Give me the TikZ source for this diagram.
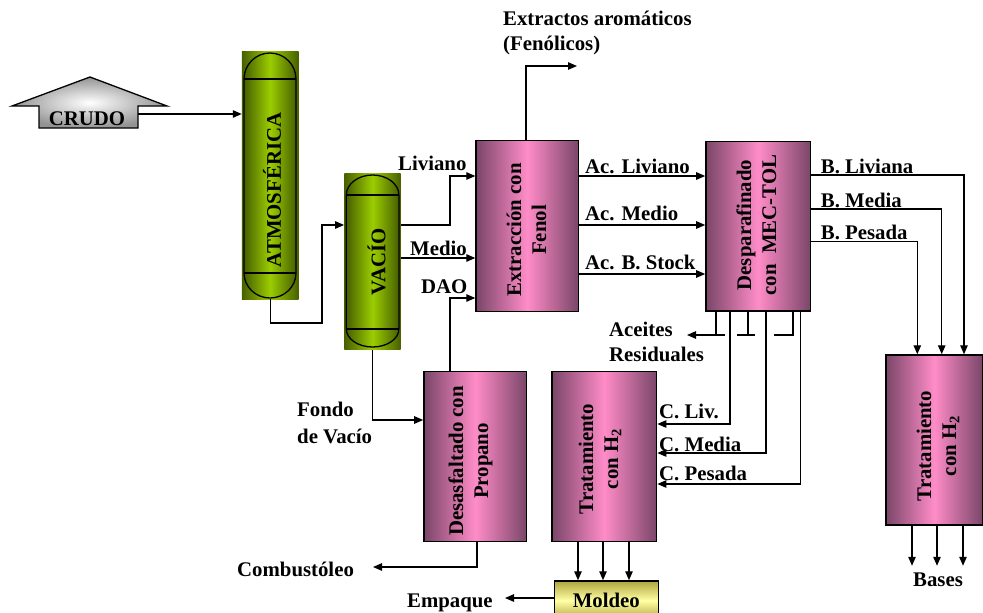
\documentclass[tikz,border=0pt]{standalone}
\usepackage{fontspec}
\setmainfont{Liberation Serif}
\usetikzlibrary{arrows.meta}
\definecolor{rosaosc}{RGB}{122,70,104}
\definecolor{rosa}{RGB}{255,140,200}
\definecolor{verdeosc}{RGB}{72,96,0}
\definecolor{verde}{RGB}{155,205,0}
\definecolor{amarosc}{RGB}{175,165,60}
\definecolor{amar}{RGB}{255,255,165}
\tikzset{
  flujo/.style={line width=1.2pt, -{Triangle[length=9pt,width=7.5pt]}},
  tubo/.style={line width=1.2pt},
  casco/.style={left color=verdeosc, right color=verdeosc, middle color=verde},
  torre/.style={casco, rectangle, inner sep=0pt},
  unidad/.style={draw, line width=1.5pt, rectangle, inner sep=0pt,
    left color=rosaosc, right color=rosaosc, middle color=rosa},
  etiq/.style={anchor=base west, inner sep=0pt, align=left},
  girado/.style={rotate=90, align=center, inner sep=0pt}
}
\begin{document}
\begin{tikzpicture}[x=1pt, y=-1pt, font=\fontsize{20.8}{25}\selectfont\bfseries]
    \useasboundingbox (0,0) rectangle (983,613);

    % Crudo
    \shadedraw[line width=1.3pt, inner color=white, outer color=gray!85]
        (39,128) -- (39,106) -- (12,106) -- (90,77) -- (167,106) -- (138,106) -- (138,128) -- cycle;
    \node (crudo) at (87,119) {CRUDO};
    \coordinate (crudoR) at (138,114);

    % Torre atmosferica
    \node[torre, minimum width=56.7, minimum height=248] (atm) at (270.3,175) {};
    \shadedraw[casco, line width=1.3pt] (244,79) arc[start angle=180, end angle=360, x radius=26, y radius=26]
        -- (296,273) arc[start angle=0, end angle=180, x radius=26, y radius=25] -- cycle;
    \draw[line width=1.3pt] (244,79) -- (296,79) (244,273) -- (296,273);
    \node[girado] (tatm) at (272,190) {ATMOSFÉRICA};

    % Torre de vacio
    \node[torre, minimum width=56.4, minimum height=176] (vac) at (372.5,261.3) {};
    \shadedraw[casco, line width=1.3pt] (346.3,195) arc[start angle=180, end angle=360, x radius=26.3, y radius=20]
        -- (398.9,329) arc[start angle=0, end angle=180, x radius=26.3, y radius=18] -- cycle;
    \draw[line width=1.3pt] (346.3,195) -- (398.9,195) (346.3,329) -- (398.9,329);
    \node[girado] (tvac) at (376.7,262) {VACÍO};

    % Unidades
    \node[unidad, minimum width=102.3, minimum height=171] (extr) at (527.2,226.2) {};
    \node[girado] (textr) at (526.5,230) {Extracción con\\Fenol};
    \node[unidad, minimum width=104.7, minimum height=169.3] (desp) at (758.3,226.3) {};
    \node[girado] (tdesp) at (756.5,225) {Desparafinado\\con~~MEC-TOL};
    \node[unidad, minimum width=102.7, minimum height=170] (desa) at (475.3,456.7) {};
    \node[girado] (tdesa) at (470.5,461) {Desasfaltado con\\Propano};
    \node[unidad, minimum width=104.7, minimum height=170] (trat1) at (604.3,456.7) {};
    \node[girado] (ttrat1) at (600,459) {Tratamiento\\con H\textsubscript{2}};
    \node[unidad, minimum width=96.5, minimum height=170] (trat2) at (934.2,440) {};
    \node[girado] (ttrat2) at (938,446) {Tratamiento\\con H\textsubscript{2}};
    \node[draw, line width=1.5pt, inner sep=0pt, top color=amarosc, bottom color=amarosc, middle color=amar,
        minimum width=104, minimum height=39] (mold) at (606.3,600.5) {Moldeo};

    % Etiquetas
    \node[etiq] (larom) at (503,50) {Extractos aromáticos\\(Fenólicos)};
    \node[etiq] (lliv) at (398,170) {Liviano};
    \node[etiq] (lmed) at (410,255) {Medio};
    \node[etiq] (ldao) at (421,293) {DAO};
    \node[etiq] (lacliv) at (585,173) {Ac. Liviano};
    \node[etiq] (lacmed) at (585,220.7) {Ac. Medio};
    \node[etiq] (lacbs) at (585,269.3) {Ac. B. Stock};
    \node[etiq] (lbliv) at (820.7,173.3) {B. Liviana};
    \node[etiq] (lbmed) at (820.7,207.3) {B. Media};
    \node[etiq] (lbpes) at (820.7,239) {B. Pesada};
    \node[etiq] (lres) at (609,361.5) {Aceites\\Residuales};
    \node[etiq] (lcliv) at (659,418.3) {C. Liv.};
    \node[etiq] (lcmed) at (659,451.7) {C. Media};
    \node[etiq] (lcpes) at (659,480) {C. Pesada};
    \node[etiq, align=left] (lfondo) at (297,443) {Fondo\\[2pt]de Vacío};
    \node[etiq] (lcomb) at (237,576) {Combustóleo};
    \node[etiq] (lemp) at (407,607) {Empaque};
    \node[anchor=base, inner sep=0pt] (lbases) at (938,586.7) {Bases};

    % Extremos libres
    \coordinate (arom) at (577,66);
    \coordinate (aceites) at (687,335);
    \coordinate (comb) at (373,567);
    \coordinate (emp) at (505,598);

    % Corrientes
    \draw[flujo] (crudoR) -- (crudoR -| atm.west);
    \draw[flujo] (atm.south) |- (322,323) |- (vac.west |- 0,225);
    \draw[flujo] (vac.east |- 0,225) -| (450,176) -- (extr.west |- 0,176);
    \draw[flujo] (vac.east |- 0,258) -- (extr.west |- 0,258);
    \draw[flujo] (desa.north -| 450,0) |- (extr.west |- 0,298);
    \draw[flujo] (vac.south) |- (desa.west |- 0,420);
    \draw[flujo] (extr.north -| 526,0) |- (arom);
    \draw[flujo] (desa.south -| 477,0) |- (comb);

    \draw[flujo] (extr.east |- 0,176) -- (desp.west |- 0,176);
    \draw[flujo] (extr.east |- 0,225) -- (desp.west |- 0,225);
    \draw[flujo] (extr.east |- 0,274) -- (desp.west |- 0,274);

    \draw[flujo] (desp.east |- 0,175) -| (trat2.north -| 964,0);
    \draw[flujo] (desp.east |- 0,209) -| (trat2.north -| 941.7,0);
    \draw[flujo] (desp.east |- 0,241.7) -| (trat2.north -| 917.3,0);

    \foreach \bx in {912,937,963}
        \draw[flujo] (trat2.south -| \bx,0) -- ++(0,40);

    % Aceites residuales
    \draw[tubo] (desp.south -| 716,0) -- (716,335);
    \draw[tubo] (desp.south -| 748,0) -- (748,335) (737,335) -- (755,335);
    \draw[tubo] (desp.south -| 793,0) |- (774,335);
    \draw[flujo] (725,335) -- (aceites);

    \draw[flujo] (desp.south -| 730,0) |- (trat1.east |- 0,424);
    \draw[flujo] (desp.south -| 766,0) |- (trat1.east |- 0,453);
    \draw[flujo] (desp.south -| 800.7,0) |- (trat1.east |- 0,484);

    \foreach \mx in {578,603,629}
        \draw[flujo] (trat1.south -| \mx,0) -- (mold.north -| \mx,0);
    \draw[flujo] (mold.west |- 0,598) -- (emp);

\end{tikzpicture}
\end{document}
